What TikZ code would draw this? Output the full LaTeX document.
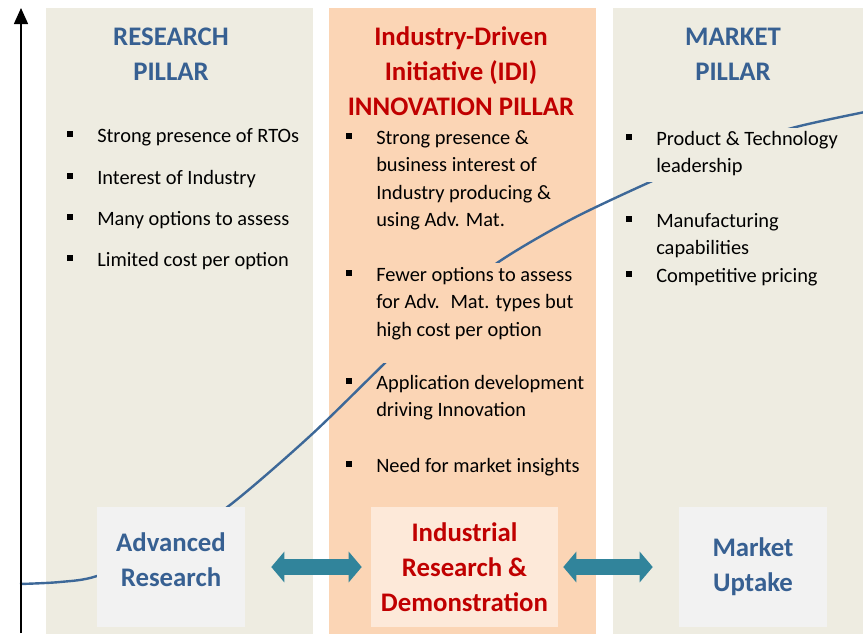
\documentclass[tikz,border=0pt]{standalone}
\usepackage{fontspec}
\setmainfont{Carlito}
\usetikzlibrary{arrows.meta}

\definecolor{pillarbg}{HTML}{EEECE1}
\definecolor{idibg}{HTML}{FBD5B5}
\definecolor{greybox}{HTML}{F2F2F2}
\definecolor{pinkbox}{HTML}{FDE9D9}
\definecolor{titleblue}{HTML}{376092}
\definecolor{titlered}{HTML}{C00000}
\definecolor{teal}{HTML}{31849B}
\definecolor{curveblue}{HTML}{3D6898}

% square bullet hung in front of the first line
\newcommand\sqb{\llap{\rule[4.1pt]{3.9pt}{3.9pt}\hspace{18.5pt}}}

% nodes sit on the baseline of their last line
\tikzset{
  pillar/.style={font=\fontsize{20.1}{26.25}\selectfont\bfseries, align=center, inner sep=0, anchor=base},
  item/.style={font=\fontsize{15.3}{20.6}\selectfont, align=left, inner sep=0, anchor=base west},
  stage/.style={minimum width=#1*0.75pt, minimum height=90pt, inner sep=0,
    font=\fontsize{20.1}{26.25}\selectfont\bfseries, align=center},
  link/.style={draw=teal, line width=12pt,
    {Triangle[width=22.5pt,length=9.75pt]}-{Triangle[width=22.5pt,length=9.75pt]}}
}

\begin{document}
\begin{tikzpicture}[x=0.75pt,y=-0.75pt]
\useasboundingbox (0,0) rectangle (863,633);

% the three pillars
\fill[pillarbg] (46,8) rectangle (313,640);
\fill[idibg] (329,8) rectangle (596,640);
\fill[pillarbg] (613,8) rectangle (880,640);

% S-curve of maturity
\draw[curveblue, line width=1.8pt] plot[smooth, tension=0.5] coordinates {
  (20,584) (60,582) (97,576) (165,548) (230,505) (310,436) (385,363)
  (440,310) (497,263) (570,220) (650,182) (720,152) (792,128) (870,111)};
% text boxes lie over the curve
\fill[idibg] (340,263) rectangle (590,363);
\fill[pillarbg] (620,128) rectangle (880,182);

% headings
\node[pillar, text=titleblue] (rtitle) at (171,80) {RESEARCH\\PILLAR};
\node[pillar, text=titlered] (ititle) at (461,115) {Industry-Driven\\Initiative (IDI)\\INNOVATION PILLAR};
\node[pillar, text=titleblue] (mtitle) at (733,80) {MARKET\\PILLAR};

% research pillar
\node[item] (r1) at (97,142) {\sqb Strong presence of RTOs};
\node[item] (r2) at (97,184) {\sqb Interest of Industry};
\node[item] (r3) at (97,225) {\sqb Many options to assess};
\node[item] (r4) at (97,266) {\sqb Limited cost per option};

% innovation pillar
\node[item] (i1) at (376,226.5) {\sqb Strong presence \&\\business interest of\\Industry producing \&\\using Adv. Mat.};
\node[item] (i2) at (376,336) {\sqb Fewer options to assess\\for Adv.~ Mat. types but\\high cost per option};
\node[item] (i3) at (376,416.5) {\sqb Application development\\driving Innovation};
\node[item] (i4) at (376,472) {\sqb Need for market insights};

% market pillar
\node[item] (m1) at (656,172.5) {\sqb Product \& Technology\\leadership};
\node[item] (m2) at (656,254.5) {\sqb Manufacturing\\capabilities};
\node[item] (m3) at (656,282) {\sqb Competitive pricing};

% stages
\node[stage=148, fill=greybox, text=titleblue, text depth=11.5pt] (adv) at (171,567) {Advanced\\Research};
\node[stage=187, fill=pinkbox, text=titlered] (idr) at (464.5,567) {Industrial\\Research \&\\Demonstration};
\node[stage=148, fill=greybox, text=titleblue] (mkt) at (753,567) {Market\\Uptake};

\draw[link, shorten <=19.5pt, shorten >=6.75pt] (adv.east) -- (idr.west);
\draw[link, shorten <=3.75pt, shorten >=19.5pt] (idr.east) -- (mkt.west);

% axis
\coordinate (o) at (21,633);
\coordinate (up) at (21,8);
\draw[line width=1.1pt, -{Triangle[length=12pt,width=10.5pt]}] (o) -- (up);
\end{tikzpicture}
\end{document}
